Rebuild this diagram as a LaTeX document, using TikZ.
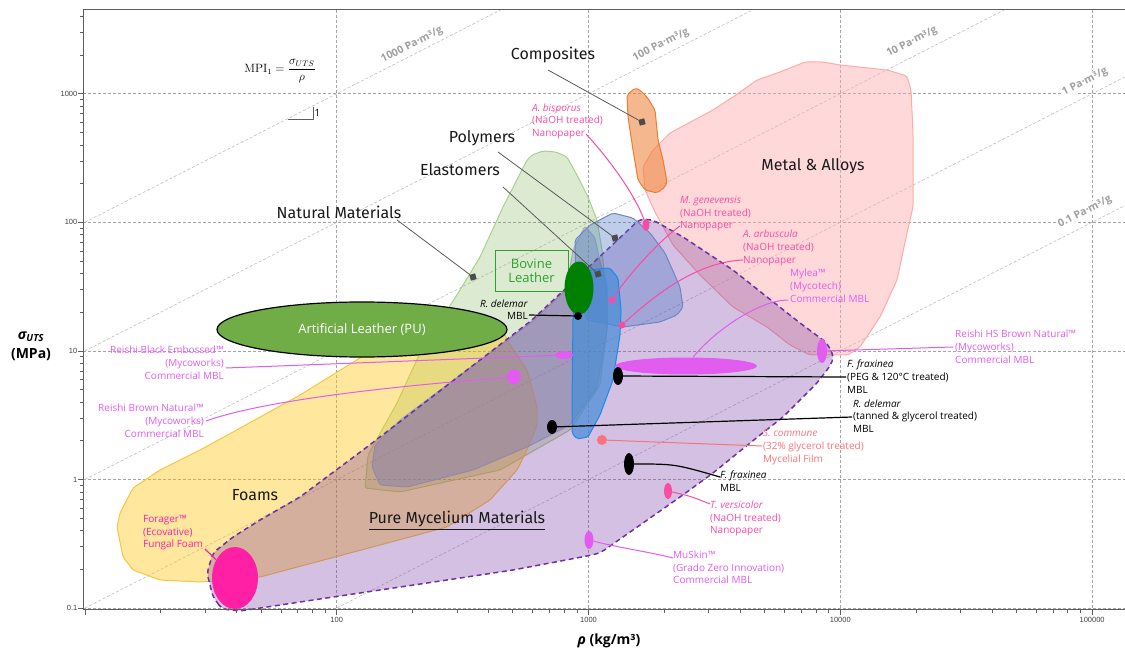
\documentclass[tikz,border=0pt]{standalone}
\usepackage{amsmath}
\usepackage[no-math]{fontspec}
\setmainfont{Open Sans}
\newfontfamily\catfont{Fira Sans}
\newfontfamily\tickfont{Liberation Sans}
\usetikzlibrary{shapes.geometric, positioning}
\definecolor{gridgray}{RGB}{165,165,165}
\definecolor{diaggray}{RGB}{190,190,190}
\definecolor{lblgray}{RGB}{160,160,160}
\definecolor{axisgray}{RGB}{95,95,95}
\definecolor{metalc}{RGB}{255,170,170}
\definecolor{compc}{RGB}{237,125,49}
\definecolor{natc}{RGB}{112,173,71}
\definecolor{natd}{RGB}{169,209,142}
\definecolor{foamc}{RGB}{255,192,0}
\definecolor{foamd}{RGB}{248,196,70}
\definecolor{elac}{RGB}{140,155,185}
\definecolor{elad}{RGB}{165,172,185}
\definecolor{mycc}{RGB}{112,48,160}
\definecolor{polyc}{RGB}{68,114,196}
\definecolor{polyd}{RGB}{110,135,195}
\definecolor{bluec}{RGB}{70,140,215}
\definecolor{blued}{RGB}{30,136,229}
\definecolor{nanopink}{RGB}{250,75,165}
\definecolor{mblviolet}{RGB}{226,92,240}
\definecolor{filmsalmon}{RGB}{248,115,125}
\definecolor{foampink}{RGB}{255,32,165}
\definecolor{artgreen}{RGB}{112,173,71}
\definecolor{bovgreen}{RGB}{0,128,0}
\definecolor{boxgreen}{RGB}{45,160,45}
\tikzset{
  gridline/.style = {gridgray, line width=0.6pt, dash pattern=on 3pt off 2pt},
  mpiline/.style = {diaggray, line width=0.6pt, dash pattern=on 3pt off 2pt},
  mpilbl/.style = {lblgray, fill=white, inner sep=1pt, rotate=27,
    font=\bfseries\fontsize{10.5}{12}\selectfont},
  region/.style = {line width=1pt, line join=round, rounded corners=2pt},
  metal/.style = {region, draw=metalc, fill=metalc, fill opacity=0.45},
  composite/.style = {region, draw=compc, fill=compc, fill opacity=0.55},
  natural/.style = {region, draw=natd, fill=natc, fill opacity=0.25},
  foam/.style = {region, draw=foamd, fill=foamc, fill opacity=0.38},
  elastomer/.style = {region, draw=elad, fill=elac, fill opacity=0.45},
  mycelium/.style = {region, draw=mycc, fill=mycc, fill opacity=0.3,
    line width=1.5pt, dash pattern=on 5pt off 3.5pt, rounded corners=5pt},
  polymer/.style = {region, draw=polyd, fill=polyc, fill opacity=0.35},
  polyblue/.style = {region, draw=blued, fill=bluec, fill opacity=0.7},
  sqmark/.style = {fill=black!70, minimum size=6pt, inner sep=0pt, rotate=15},
  catline/.style = {black!65, line width=0.8pt},
  catlbl/.style = {font=\catfont\fontsize{16}{18}\selectfont, text=black!90, inner sep=0pt},
  dot/.style = {ellipse, inner sep=0pt, draw=none},
  spec/.style = {font=\fontsize{10}{12.7}\selectfont, inner sep=0pt,
    align=left, anchor=north west},
  specr/.style = {spec, align=right, anchor=north east},
  nanoline/.style = {nanopink, line width=1pt},
  mblline/.style = {mblviolet, line width=1pt},
  blkline/.style = {black, line width=1.2pt},
  filmline/.style = {filmsalmon, line width=1pt},
  ticklbl/.style = {font=\tickfont\fontsize{7.5}{8}\selectfont, text=black!75, inner sep=0pt}
}
\begin{document}
\begin{tikzpicture}[x=1pt, y=-1pt]
\useasboundingbox (0,0) rectangle (1125,652);

% grid and MPI guide lines
\foreach \gx in {336.7, 588.5, 840.3, 1092.1}
  \draw[gridline] (\gx,10) -- (\gx,609);
\foreach \gy in {93.7, 222.3, 350.9, 479.5, 608.1}
  \draw[gridline] (83.3,\gy) -- (1125,\gy);
\foreach \xa/\ya/\xb/\yb in {84.9/222.3/500.6/10, 84.9/350.9/752.4/10,
    84.9/479.5/1004.2/10, 84.9/608.1/1125/76.9, 336.7/608.1/1125/205.5}
  \draw[mpiline] (\xa,\ya) -- (\xb,\yb);
\node[mpilbl] (mpi1000) at (412,45) {1000 Pa·m³/g};
\node[mpilbl] (mpi100) at (661,45) {100 Pa·m³/g};
\node[mpilbl] (mpi10) at (912,42) {10 Pa·m³/g};
\node[mpilbl] (mpi1) at (1085,82) {1 Pa·m³/g};
\node[mpilbl] (mpi01) at (1085,212) {0.1 Pa·m³/g};

% material families
\draw[metal] (643,167) -- (653,150) -- (670,133) -- (713,110) -- (733,97) -- (757,80)
  -- (780,72) -- (805,62) -- (823,62) -- (840,65) -- (887,70) -- (907,76) -- (911,90)
  -- (913,133) -- (913,207) -- (907,233) -- (897,280) -- (880,317) -- (860,347)
  -- (848,355) -- (810,355) -- (790,345) -- (767,327) -- (733,307) -- (700,275)
  -- (673,245) -- (655,212) -- (645,190) -- cycle;
\draw[composite] (635,88) -- (627,95) -- (628,117) -- (633,150) -- (638,180) -- (645,190)
  -- (657,193) -- (665,187) -- (667,182) -- (663,160) -- (658,140) -- (655,110)
  -- (647,97) -- (640,90) -- cycle;
\draw[natural] (532,155) -- (543,151) -- (556,152) -- (567,157) -- (578,177) -- (588,197)
  -- (597,220) -- (602,250) -- (606,290) -- (607,330) -- (600,385) -- (570,430)
  -- (500,470) -- (400,492) -- (365,488) -- (368,455) -- (397,403) -- (420,353)
  -- (460,290) -- (480,257) -- (503,207) -- (527,160) -- cycle;
\draw[foam] (417,320) -- (470,314) -- (500,322) -- (507,340) -- (527,370) -- (537,407)
  -- (537,425) -- (527,450) -- (517,470) -- (490,500) -- (447,527) -- (380,545)
  -- (260,577) -- (233,580) -- (200,582) -- (160,580) -- (133,570) -- (123,557)
  -- (117,527) -- (120,513) -- (133,488) -- (160,470) -- (200,450) -- (233,432)
  -- (300,395) -- (360,358) -- cycle;
\draw[elastomer] (585,226) -- (595,238) -- (600,262) -- (607,285) -- (607,330) -- (597,387)
  -- (570,425) -- (527,447) -- (473,470) -- (407,487) -- (380,485) -- (372,467)
  -- (375,445) -- (400,420) -- (460,375) -- (532,322) -- (566,290) -- (573,250) -- cycle;
\draw[mycelium] (222,609) -- (213,597) -- (207,573) -- (213,553) -- (233,537) -- (260,520)
  -- (300,497) -- (367,447) -- (532,320) -- (640,219) -- (653,220) -- (683,237)
  -- (733,270) -- (767,297) -- (800,323) -- (827,343) -- (834,357) -- (830,366)
  -- (817,383) -- (783,417) -- (750,443) -- (713,473) -- (680,497) -- (633,530)
  -- (600,553) -- (587,556) -- (513,570) -- (447,580) -- (380,590) -- (333,597)
  -- (267,607) -- (240,611) -- cycle;
\draw[polymer] (575,240) -- (590,225) -- (613,213) -- (633,218) -- (650,233) -- (665,253)
  -- (680,287) -- (683,307) -- (677,315) -- (660,322) -- (623,327) -- (587,320)
  -- (576,290) -- cycle;
\draw[polyblue] (573,318) -- (575,280) -- (585,271) -- (598,269) -- (610,268) -- (618,278)
  -- (621,310) -- (620,335) -- (613,380) -- (600,415) -- (588,437) -- (577,439)
  -- (572,433) -- (572,403) -- cycle;

% family labels
\node[sqmark] (compsq) at (642,122) {};
\node[sqmark] (polysq) at (615,238) {};
\node[sqmark] (elasq) at (598,274) {};
\node[sqmark] (natsq) at (473,277) {};
\coordinate (comptip) at (548,70);
\coordinate (polytip) at (498,152);
\coordinate (elatip) at (503,187);
\coordinate (nattip) at (397,220);
\draw[catline] (comptip) -- (compsq);
\draw[catline] (polytip) -- (polysq);
\draw[catline] (elatip) -- (elasq);
\draw[catline] (nattip) -- (natsq);
\node[catlbl] (complbl) at (553,55) {Composites};
\node[catlbl] (polylbl) at (482,138) {Polymers};
\node[catlbl] (elalbl) at (460,170) {Elastomers};
\node[catlbl] (natlbl) at (339,212) {Natural Materials};
\node[catlbl] (metallbl) at (813,166) {Metal \& Alloys};
\node[catlbl] (foamlbl) at (255,495) {Foams};
\node[catlbl] (myclbl) at (457,521) {\underline{Pure Mycelium Materials}};

% leathers
\node[ellipse, draw=black, line width=1.2pt, fill=artgreen, minimum width=290pt,
  minimum height=55pt, text=white, font=\fontsize{13}{15}\selectfont] (artleather)
  at (362,329.5) {Artificial Leather (PU)};
\node[draw=boxgreen, line width=0.8pt, text=boxgreen, minimum width=73pt, minimum height=41pt,
  align=center, font=\fontsize{13}{14}\selectfont] (bovbox) at (531.5,270.5) {Bovine\\Leather};
\node[dot, fill=bovgreen, minimum width=29pt, minimum height=53pt] (bovine) at (579,288) {};

% specimens
\node[dot, fill=nanopink, minimum width=7pt, minimum height=12pt] (bisporus) at (646,225) {};
\node[dot, fill=nanopink, minimum width=7pt, minimum height=7pt] (genev) at (612,300) {};
\node[dot, fill=nanopink, minimum width=7pt, minimum height=7pt] (arbus) at (622,325) {};
\node[dot, fill=mblviolet, minimum width=142pt, minimum height=17pt] (mylea) at (686,366) {};
\node[dot, fill=mblviolet, minimum width=10pt, minimum height=24pt] (reishihs) at (822,351) {};
\node[dot, fill=black, minimum width=10pt, minimum height=18pt] (fraxpeg) at (618,376) {};
\node[dot, fill=black, minimum width=10pt, minimum height=14pt] (deltan) at (552,427) {};
\node[dot, fill=filmsalmon, minimum width=10pt, minimum height=10pt] (commune) at (602,440) {};
\node[dot, fill=black, minimum width=10pt, minimum height=22pt] (frax) at (629,464) {};
\node[dot, fill=nanopink, minimum width=8pt, minimum height=16pt] (versi) at (668,491) {};
\node[dot, fill=mblviolet, minimum width=9pt, minimum height=18pt] (muskin) at (589,540) {};
\node[dot, fill=mblviolet, minimum width=18pt, minimum height=8pt] (reishiblack) at (564,355) {};
\node[dot, fill=mblviolet, minimum width=14pt, minimum height=15pt] (reishibrown) at (514,377) {};
\node[dot, fill=black, minimum width=8pt, minimum height=8pt] (delmbl) at (578,316) {};
\node[dot, fill=foampink, minimum width=46pt, minimum height=62pt] (forager) at (235,578) {};

\coordinate (bisporustip) at (586,134);
\coordinate (genevtip) at (680,226);
\coordinate (arbustip) at (743,260);
\coordinate (myleatip) at (788,300);
\coordinate (reishihstip) at (953,347);
\coordinate (fraxpegtip) at (846,377);
\coordinate (deltantip) at (852,417);
\coordinate (communetip) at (762,446);
\coordinate (fraxtip) at (720,477);
\coordinate (versitip) at (710,504);
\coordinate (muskintip) at (673,558);
\coordinate (reishiblacktip) at (226,368);
\coordinate (reishibrowntip) at (206,421);
\coordinate (delmbltip) at (529,315);
\coordinate (foragertip) at (205,549);

\draw[nanoline] (bisporustip) .. controls (610,160) and (635,195) .. (bisporus);
\draw[nanoline] (genevtip) .. controls (660,240) and (628,275) .. (genev);
\draw[nanoline] (arbustip) .. controls (700,262) and (660,290) .. (arbus);
\draw[mblline] (myleatip) .. controls (760,300) and (715,330) .. (mylea);
\draw[mblline] (reishihs) -- (reishihstip);
\draw[blkline] (fraxpeg) -- (fraxpegtip);
\draw[blkline] (deltan) -- (deltantip);
\draw[filmline] (commune) -- (communetip);
\draw[blkline] (frax) .. controls (675,464) .. (fraxtip);
\draw[nanoline] (versi) .. controls (690,496) .. (versitip);
\draw[mblline] (muskin) .. controls (620,548) and (650,552) .. (muskintip);
\draw[mblline] (reishiblacktip) -- (reishiblack);
\draw[mblline] (reishibrowntip) .. controls (270,398) and (420,384) .. (reishibrown);
\draw[blkline] (delmbltip) -- (delmbl);
\draw[foampink, line width=1.2pt] (foragertip) -- (forager);

\node[spec, text=nanopink] (bisporuslbl) at (532,103.3) {\textit{A. bisporus}\\(NaOH treated)\\Nanopaper};
\node[spec, text=nanopink] (genevlbl) at (680,195.8) {\textit{M. genevensis}\\(NaOH treated)\\Nanopaper};
\node[spec, text=nanopink] (arbuslbl) at (743,230) {\textit{A. arbuscula}\\(NaOH treated)\\Nanopaper};
\node[spec, text=mblviolet] (myleallbl) at (790,269) {Mylea™\\(Mycotech)\\Commercial MBL};
\node[spec, text=mblviolet] (reishihslbl) at (955,330) {Reishi HS Brown Natural™\\(Mycoworks)\\Commercial MBL};
\node[spec] (fraxpeglbl) at (847,360) {\textit{F. fraxinea}\\(PEG \& 120°C treated)\\MBL};
\node[spec] (deltanlbl) at (853,399.3) {\textit{R. delemar}\\(tanned \& glycerol treated)\\MBL};
\node[spec, text=filmsalmon] (communelbl) at (763,429.3) {\textit{S. commune}\\(32\% glycerol treated)\\Mycelial Film};
\node[spec] (fraxlbl) at (720,470.8) {\textit{F. fraxinea}\\MBL};
\node[spec, text=nanopink] (versilbl) at (710,500.8) {\textit{T. versicolor}\\(NaOH treated)\\Nanopaper};
\node[spec, text=mblviolet] (muskinlbl) at (673,550.8) {MuSkin™\\(Grado Zero Innovation)\\Commercial MBL};
\node[specr, text=mblviolet] (reishiblacklbl) at (224,346) {Reishi Black Embossed™\\(Mycoworks)\\Commercial MBL};
\node[specr, text=mblviolet] (reishibrownlbl) at (204,404) {Reishi Brown Natural™\\(Mycoworks)\\Commercial MBL};
\node[specr, font=\fontsize{10}{12}\selectfont] (delmbllbl) at (528,299.3) {\textit{R. delemar}\\MBL};
\node[spec, text=foampink] (foragerlbl) at (143,515) {Forager™\\(Ecovative)\\Fungal Foam};

% axes
\draw[axisgray, line width=1pt] (83.3,10) -- (1125,10);
\draw[axisgray, line width=1pt] (83.3,10) -- (83.3,609.5) -- (1125,609.5);
\foreach \k in {-1,0,1,2} {
  \draw[axisgray, line width=0.6pt] (83.3,{479.5-\k*128.6}) -- ++(-5,0);
  \foreach \m in {2,...,9}
    \draw[axisgray, line width=0.6pt] (83.3,{479.5-(\k+log10(\m))*128.6}) -- ++(-3,0);
}
\draw[axisgray, line width=0.6pt] (83.3,93.7) -- ++(-5,0);
\foreach \m in {2,3,4}
  \draw[axisgray, line width=0.6pt] (83.3,{93.7-log10(\m)*128.6}) -- ++(-3,0);
\foreach \k in {1,...,4} {
  \draw[axisgray, line width=0.6pt] ({84.9+(\k-1)*251.8},609.5) -- ++(0,5);
  \foreach \m in {2,...,9}
    \draw[axisgray, line width=0.6pt] ({84.9+(\k-1+log10(\m))*251.8},609.5) -- ++(0,3);
}
\draw[axisgray, line width=0.6pt] (1092.1,609.5) -- ++(0,5);
\foreach \lbl/\gy in {1000/93.7, 100/222.3, 10/350.9, 1/479.5, 0.1/608.1}
  \node[ticklbl, anchor=east] (ytick\lbl) at (77.5,\gy) {\lbl};
\foreach \lbl/\gx in {100/336.7, 1000/588.5, 10000/840.3, 100000/1092.1}
  \node[ticklbl, anchor=north] (xtick\lbl) at (\gx,617) {\lbl};
\node[align=center, font=\bfseries\fontsize{14}{19}\selectfont] (ylbl) at (31,346)
  {\textit{σ\textsubscript{UTS}}\\(MPa)};
\node[font=\bfseries\fontsize{14}{16}\selectfont] (xlbl) at (609,641) {\textit{ρ} (kg/m³)};

% index
\node[font=\fontsize{12}{14}\selectfont] (mpi) at (280,71) {$\mathrm{MPI}_1=\dfrac{\sigma_{UTS}}{\rho}$};
\coordinate (slopea) at (288,119);
\coordinate (slopeb) at (313,119);
\coordinate (slopec) at (313,107);
\draw[axisgray, line width=0.7pt] (slopea) -- (slopeb) -- (slopec);
\node[font=\fontsize{10}{11}\selectfont, inner sep=0pt, right=1.5pt of slopec, yshift=-6pt] (slopelbl) {1};
\end{tikzpicture}
\end{document}
